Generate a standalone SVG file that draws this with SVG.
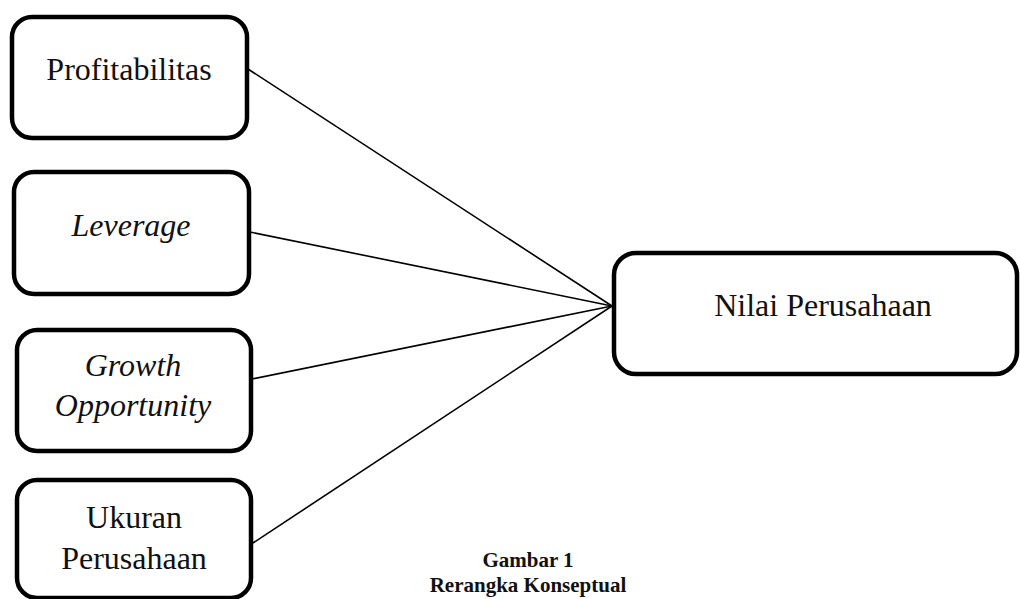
<svg xmlns="http://www.w3.org/2000/svg" width="1020" height="599" viewBox="0 0 1020 599">
<style>
.box{fill:#fff;stroke:#000;stroke-width:4.5}
.t{font-family:"Liberation Serif","Times New Roman",serif;font-size:32px;fill:#111;text-anchor:middle}
.i{font-style:italic}
.cap{font-family:"Liberation Serif","Times New Roman",serif;font-size:21px;font-weight:bold;fill:#111;text-anchor:middle}
.ln{stroke:#000;stroke-width:1.6;fill:none}
</style>
<rect width="1020" height="599" fill="#fff"/>
<g id="connectors">
<line class="ln" x1="248" y1="69" x2="612" y2="306"/>
<line class="ln" x1="250" y1="232" x2="612" y2="306"/>
<line class="ln" x1="252" y1="379" x2="612" y2="306"/>
<line class="ln" x1="253" y1="543" x2="612" y2="306"/>
</g>
<g id="n1"><rect class="box" x="12" y="17" width="235" height="121" rx="20"/><text class="t" x="129" y="80">Profitabilitas</text></g>
<g id="n2"><rect class="box" x="14" y="172" width="235" height="122" rx="20"/><text class="t i" x="131" y="236">Leverage</text></g>
<g id="n3"><rect class="box" x="17" y="330" width="234" height="121" rx="20"/><text class="t i" x="133" y="376">Growth</text><text class="t i" x="133" y="416">Opportunity</text></g>
<g id="n4"><rect class="box" x="17" y="480" width="234" height="118" rx="20"/><text class="t" x="134" y="528">Ukuran</text><text class="t" x="134" y="569">Perusahaan</text></g>
<g id="n5"><rect class="box" x="614" y="253" width="403" height="121" rx="22"/><text class="t" x="823" y="316">Nilai Perusahaan</text></g>
<g id="caption"><text class="cap" x="528" y="567">Gambar 1</text><text class="cap" x="528" y="592">Rerangka Konseptual</text></g>
</svg>
